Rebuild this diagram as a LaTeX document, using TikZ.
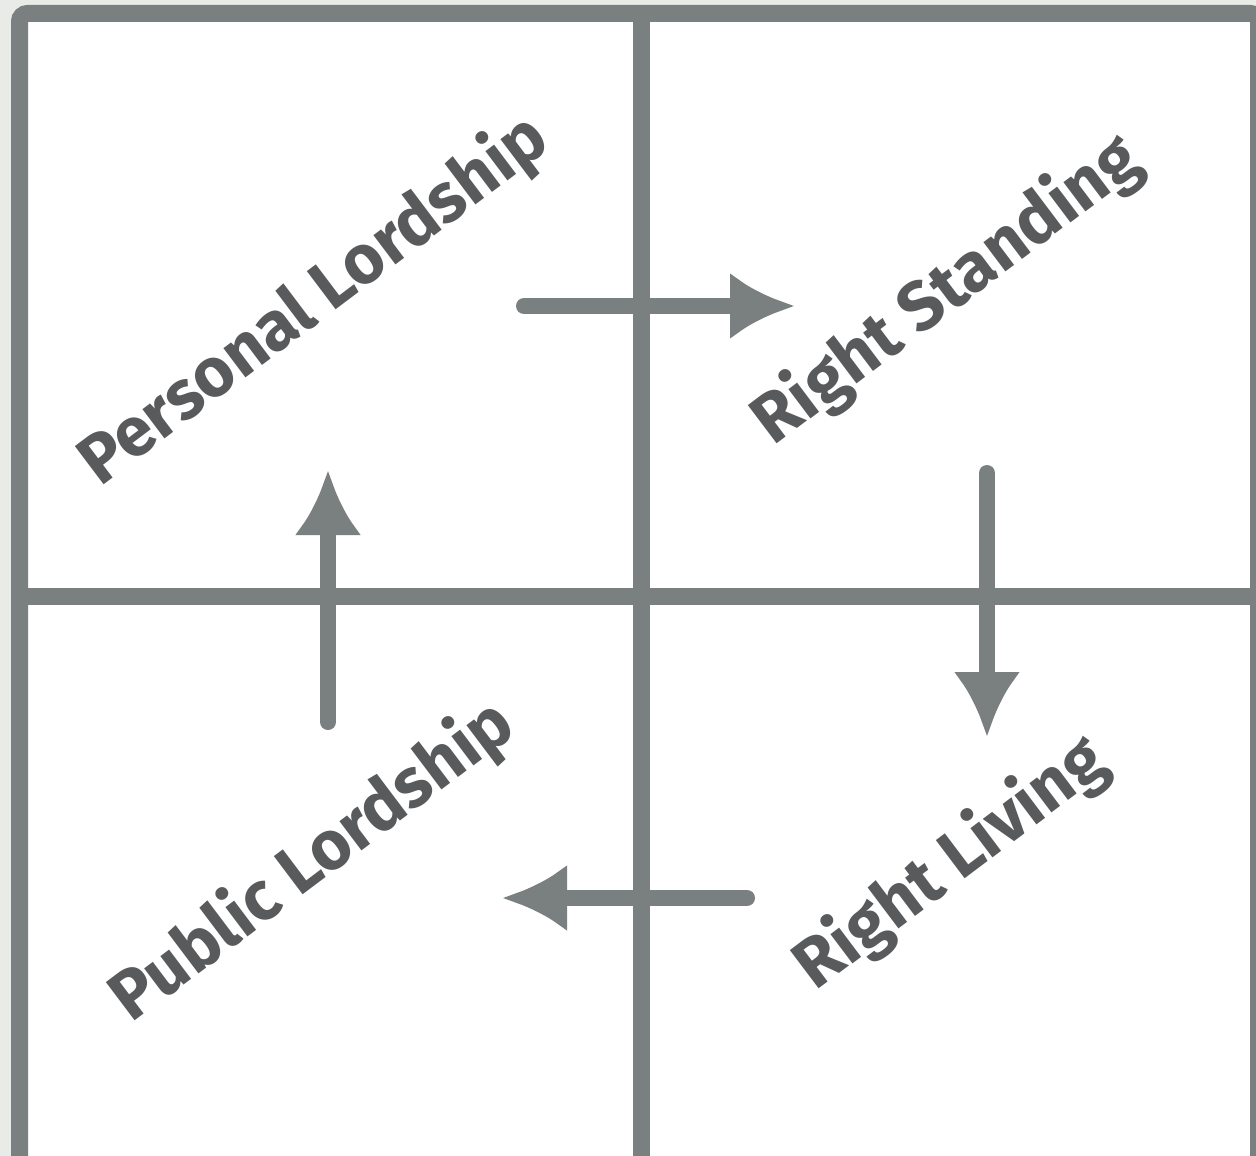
\documentclass[tikz,border=0pt]{standalone}
\usepackage{fontspec}
\setmainfont{Fira Sans}
\usetikzlibrary{arrows.meta}
\definecolor{gridgray}{RGB}{122,127,128}
\definecolor{textgray}{RGB}{88,90,92}
\definecolor{pagebg}{RGB}{233,236,230}

\begin{document}
\begin{tikzpicture}[x=1pt, y=-1pt, inner sep=0pt, outer sep=0pt,
    every node/.style={text=textgray, font=\fontsize{69}{72}\selectfont\bfseries, rotate=37},
    gridline/.style={draw=gridgray, line width=17pt},
    flow/.style={draw=gridgray, line width=16pt, line cap=round, -{Latex[length=65pt, width=67pt]}}]
    % 
  \useasboundingbox (0,0) rectangle (1256,1156);
  \clip (0,0) rectangle (1256,1156);
  \fill[pagebg] (0,0) rectangle (1256,1156);
  \draw[gridline, fill=white, rounded corners=8pt] (19.5,13.5) rectangle (1258.5,1190);
  \draw[gridline] (641,13.5) -- (641,1190);
  \draw[gridline] (19.5,596.5) -- (1258.5,596.5);
    % 
  \node (personal) at (314,301) {Personal Lordship};
  \node (standing) at (947,291) {Right Standing};
  \node (living)   at (951,864) {Right Living};
  \node (public)   at (313,862) {Public Lordship};
    % 
  \coordinate (personal_out) at (524,306);
  \coordinate (standing_in)  at (795,306);
  \coordinate (standing_out) at (987,473);
  \coordinate (living_in)    at (987,737);
  \coordinate (living_out)   at (747,898);
  \coordinate (public_in)    at (502,898);
  \coordinate (public_out)   at (328,722);
  \coordinate (personal_in)  at (328,470);
  \draw[flow] (personal_out) -- (standing_in);
  \draw[flow] (standing_out) -- (living_in);
  \draw[flow] (living_out) -- (public_in);
  \draw[flow] (public_out) -- (personal_in);
\end{tikzpicture}
\end{document}
